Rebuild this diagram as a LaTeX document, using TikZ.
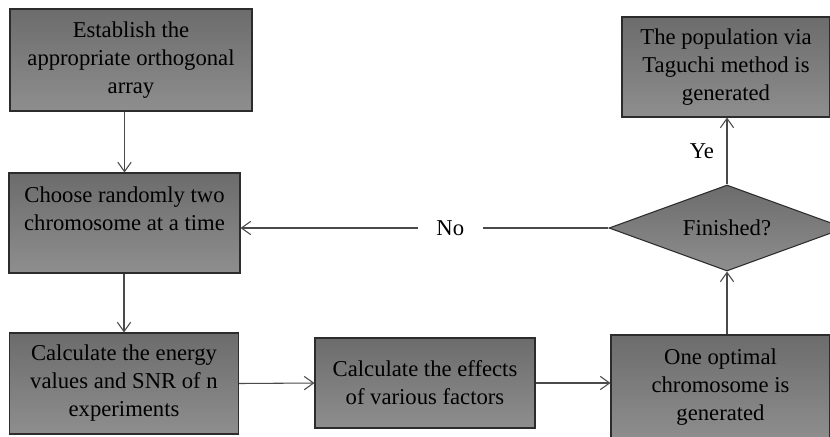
\documentclass[tikz,border=0pt]{standalone}
\usepackage{fontspec}
\setmainfont{Liberation Serif}
\usetikzlibrary{positioning,arrows.meta,shapes.geometric}
\definecolor{boxtop}{HTML}{6C6C6C}
\definecolor{boxbot}{HTML}{8E8E8E}
\definecolor{boxedge}{HTML}{2C2C2C}
\definecolor{wirecol}{HTML}{4A4A4A}
\begin{document}
\begin{tikzpicture}[x=0.75pt, y=-0.75pt,
  font=\fontsize{17}{21}\selectfont,
  stepbox/.style={draw=boxedge, line width=0.8pt, top color=boxtop, bottom color=boxbot, align=center, inner sep=2pt},
  choice/.style={diamond, aspect=2.5, draw=boxedge, line width=0.8pt, top color=boxtop, bottom color=boxbot, inner sep=1pt},
  wire/.style={draw=wirecol, line width=0.8pt, -{Straight Barb[length=7pt,width=10pt]}}]
\useasboundingbox (0,0) rectangle (830,436);
\node[stepbox, minimum width=181.5pt, minimum height=76.5pt] (array) at (131,60)
  {Establish the\\appropriate orthogonal\\array};
\node[stepbox, minimum width=173.25pt, minimum height=75pt] (pick) at (124.5,223)
  {Choose randomly two\\chromosome at a time\\ \mbox{}};
\node[stepbox, minimum width=171.75pt, minimum height=75.75pt] (energy) at (124,383.5)
  {Calculate the energy\\values and SNR of n\\experiments};
\node[stepbox, minimum width=165pt, minimum height=67.5pt] (effects) at (425,383)
  {Calculate the effects\\of various factors};
\node[stepbox, minimum width=164.25pt, minimum height=78.75pt] (optimal) at (720.5,387.5)
  {One optimal\\chromosome is\\generated};
\node[choice, minimum width=177pt, minimum height=64.5pt] (done) at (727,228) {Finished?};
\node[stepbox, minimum width=156pt, minimum height=75pt] (popul) at (726,67)
  {The population via\\Taguchi method is\\generated};
\draw[wire] (pick.north |- array.south) -- (pick.north);
\draw[wire] (energy.north |- pick.south) -- (energy.north);
\draw[wire] (energy.east) -- (effects.west);
\draw[wire] (effects.east) -- (effects.east -| optimal.west);
\draw[wire] (done.south |- optimal.north) -- (done.south);
\draw[wire] (done.north) -- node[left=6pt] (yes) {Ye} (done.north |- popul.south);
\draw[wire] (done.west) -- node[pos=0.43, fill=white, inner xsep=14pt] (no) {No} (done.west -| pick.east);
\end{tikzpicture}
\end{document}
